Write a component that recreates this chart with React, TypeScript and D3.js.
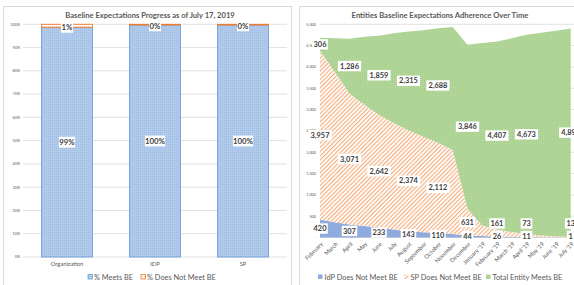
import React from "react";
import * as d3 from "d3";

// ---------- Left chart data ----------
const barCategories = ["Organization", "IDP", "SP"];
const pctMeets = [0.987, 0.997, 0.997];
const pctNotMeet = [0.013, 0.003, 0.003];
const pctTicks = [0, 0.1, 0.2, 0.3, 0.4, 0.5, 0.6, 0.7, 0.8, 0.9, 1];

// ---------- Right chart data ----------
const months = [
  "February", "March", "April", "May", "June", "July", "August", "September",
  "October", "November", "December", "January '19", "February '19", "March '19",
  "April '19", "May '19", "June '19", "July '19",
];
const idpNotMeet = [420, 360, 307, 270, 233, 185, 143, 125, 110, 80, 44, 34, 26, 18, 11, 6, 3, 1];
const spNotMeet = [3957, 3530, 3071, 2850, 2642, 2500, 2374, 2240, 2112, 1970, 631, 250, 161, 110, 73, 40, 25, 13];
const totalMeets = [306, 780, 1286, 1590, 1859, 2105, 2315, 2495, 2688, 2884, 3846, 4276, 4407, 4542, 4673, 4754, 4822, 4890];
const labeledMonths = [0, 2, 4, 6, 8, 10, 12, 14, 17];
const countTicks = [0, 500, 1000, 1500, 2000, 2500, 3000, 3500, 4000, 4500, 5000];

const FONT = "Lato, 'Open Sans', sans-serif";
const TXT = "#595959";
const GRID = "#d9d9d9";

function Label({ x, y, text, size = 7.5 }: { x: number; y: number; text: string; size?: number }) {
  const w = text.length * size * 0.52 + 4;
  const h = size + 3;
  return (
    <g>
      <rect x={x - w / 2} y={y - h / 2} width={w} height={h} fill="#fff" />
      <text x={x} y={y} dy="0.36em" textAnchor="middle" fontSize={size} fontWeight={700} fill="#404040" fontFamily={FONT}>
        {text}
      </text>
    </g>
  );
}

function LeftChart() {
  const y = d3.scaleLinear().domain([0, 1]).range([257, 24.3]);
  const x = d3.scaleBand<string>().domain(barCategories).range([23, 287]).paddingInner(0.42).paddingOuter(0.21);
  const pf = d3.format(".0%");
  return (
    <g>
      <rect x={3.5} y={6.5} width={288} height={290} fill="#fff" stroke={GRID} />
      <text x={150} y={15} dy="0.35em" textAnchor="middle" fontSize={7.6} fontWeight={700} fill={TXT} fontFamily={FONT}>
        Baseline Expectations Progress as of July 17, 2019
      </text>
      {pctTicks.map((t) => (
        <g key={t}>
          <line x1={23} x2={287} y1={y(t)} y2={y(t)} stroke={GRID} strokeWidth={0.8} />
          <text x={20} y={y(t)} dy="0.35em" textAnchor="end" fontSize={3.8} fill={TXT} fontFamily={FONT}>
            {pf(t)}
          </text>
        </g>
      ))}
      {barCategories.map((c, i) => {
        const x0 = x(c)!;
        const bw = x.bandwidth();
        const yTop1 = y(pctMeets[i]);
        const yTop2 = y(pctMeets[i] + pctNotMeet[i]);
        return (
          <g key={c}>
            <rect x={x0} y={yTop1} width={bw} height={y(0) - yTop1} fill="url(#bluedots)" stroke="#6fa0d8" strokeWidth={0.9} />
            <rect x={x0} y={yTop2} width={bw} height={Math.max(yTop1 - yTop2, 0.4)} fill="url(#orangehatch)" stroke="#ed7d31" strokeWidth={0.9} />
            <Label x={x0 + bw / 2} y={(yTop1 + y(0)) / 2} text={pf(pctMeets[i])} size={7.8} />
            <Label x={x0 + bw / 2} y={yTop2 + (i === 0 ? 3 : 1.5)} text={pf(pctNotMeet[i])} size={7.8} />
            <text x={x0 + bw / 2} y={264} dy="0.35em" textAnchor="middle" fontSize={5.8} fill={TXT} fontFamily={FONT}>
              {c}
            </text>
          </g>
        );
      })}
      {/* legend */}
      <rect x={88} y={274.5} width={4.5} height={4.5} fill="url(#bluedots)" stroke="#6fa0d8" strokeWidth={0.8} />
      <text x={94} y={277} dy="0.35em" fontSize={7.4} fill={TXT} fontFamily={FONT}>% Meets BE</text>
      <rect x={141} y={274.5} width={4.5} height={4.5} fill="url(#orangehatch)" stroke="#ed7d31" strokeWidth={0.8} />
      <text x={147} y={277} dy="0.35em" fontSize={7.4} fill={TXT} fontFamily={FONT}>% Does Not Meet BE</text>
    </g>
  );
}

function RightChart() {
  const y = d3.scaleLinear().domain([0, 5000]).range([237.5, 24.3]);
  const x = d3.scalePoint<string>().domain(months).range([320, 570.7]);
  const rows = months.map((m, i) => ({ m, idp: idpNotMeet[i], sp: spNotMeet[i], meets: totalMeets[i] }));
  const stack = d3.stack<any>().keys(["idp", "sp", "meets"]);
  const series = stack(rows);
  const area = d3
    .area<any>()
    .x((d) => x(d.data.m)!)
    .y0((d) => y(d[0]))
    .y1((d) => y(d[1]));
  const fills = ["#8faadc", "url(#sphatch)", "url(#greendots)"];
  const cf = d3.format(",");
  const tickFmt = (v: number) => (v === 0 ? "-" : cf(v));
  const labelH = 12.5;
  // label positions: centre of each band, kept inside the plot and clear of the label below
  const labelY = series.map(() => [] as number[]);
  series.forEach((s, k) => {
    labeledMonths.forEach((i) => {
      const d = s[i];
      let ly = Math.min(y((d[0] + d[1]) / 2), y(0) - 1.5);
      if (k > 0) ly = Math.min(ly, labelY[k - 1][i] - labelH);
      labelY[k][i] = ly;
    });
  });
  return (
    <g>
      <rect x={299.5} y={6.5} width={290} height={290} fill="#fff" stroke={GRID} />
      <text x={440} y={15} dy="0.35em" textAnchor="middle" fontSize={7.6} fontWeight={700} fill={TXT} fontFamily={FONT}>
        Entities Baseline Expectations Adherence Over Time
      </text>
      {countTicks.map((t) => (
        <g key={t}>
          <line x1={320} x2={574} y1={y(t)} y2={y(t)} stroke={GRID} strokeWidth={0.8} />
          <text x={316} y={y(t)} dy="0.35em" textAnchor="end" fontSize={3.8} fill={TXT} fontFamily={FONT}>
            {tickFmt(t)}
          </text>
        </g>
      ))}
      {series.map((s, k) => (
        <path key={k} d={area(s as any)!} fill={fills[k]} />
      ))}
      {months.map((m) => (
        <text
          key={m}
          transform={`translate(${x(m)! + 2},${243}) rotate(-45)`}
          textAnchor="end"
          dy="0.35em"
          fontSize={5.8}
          fill={TXT}
          fontFamily={FONT}
        >
          {m}
        </text>
      ))}
      {series.map((s, k) =>
        labeledMonths.map((i) => {
          const d = s[i];
          return <Label key={k + "-" + i} x={x(months[i])!} y={labelY[k][i]} text={cf(d[1] - d[0])} size={7.4} />;
        })
      )}
      {/* legend */}
      <rect x={318} y={274.5} width={4.5} height={4.5} fill="#8faadc" />
      <text x={324.5} y={277} dy="0.35em" fontSize={7.4} fill={TXT} fontFamily={FONT}>IdP Does Not Meet BE</text>
      <rect x={404} y={274.5} width={4.5} height={4.5} fill="url(#sphatch)" />
      <text x={410.5} y={277} dy="0.35em" fontSize={7.4} fill={TXT} fontFamily={FONT}>SP Does Not Meet BE</text>
      <rect x={486} y={274.5} width={4.5} height={4.5} fill="url(#greendots)" />
      <text x={492.5} y={277} dy="0.35em" fontSize={7.4} fill={TXT} fontFamily={FONT}>Total Entity Meets BE</text>
    </g>
  );
}

export default function App() {
  return (
    <svg width={574} height={285} style={{ position: "absolute", left: 0, top: 0, background: "#fff" }}>
      <defs>
        <pattern id="bluedots" width="2" height="2" patternUnits="userSpaceOnUse">
          <rect width="2" height="2" fill="#b3cbeb" />
          <rect width="1" height="1" fill="#9ebde4" />
        </pattern>
        <pattern id="orangehatch" width="2" height="2" patternUnits="userSpaceOnUse">
          <rect width="2" height="2" fill="#fff" />
          <rect width="1" height="1" fill="#f6c4a2" />
        </pattern>
        <pattern id="sphatch" width="3" height="3" patternUnits="userSpaceOnUse" patternTransform="rotate(45)">
          <rect width="3" height="3" fill="#fff" />
          <rect width="1.2" height="3" fill="#f4b183" />
        </pattern>
        <pattern id="greendots" width="2" height="2" patternUnits="userSpaceOnUse">
          <rect width="2" height="2" fill="#b2d69a" />
          <rect width="1" height="1" fill="#a5cf8a" />
        </pattern>
      </defs>
      <LeftChart />
      <RightChart />
    </svg>
  );
}
